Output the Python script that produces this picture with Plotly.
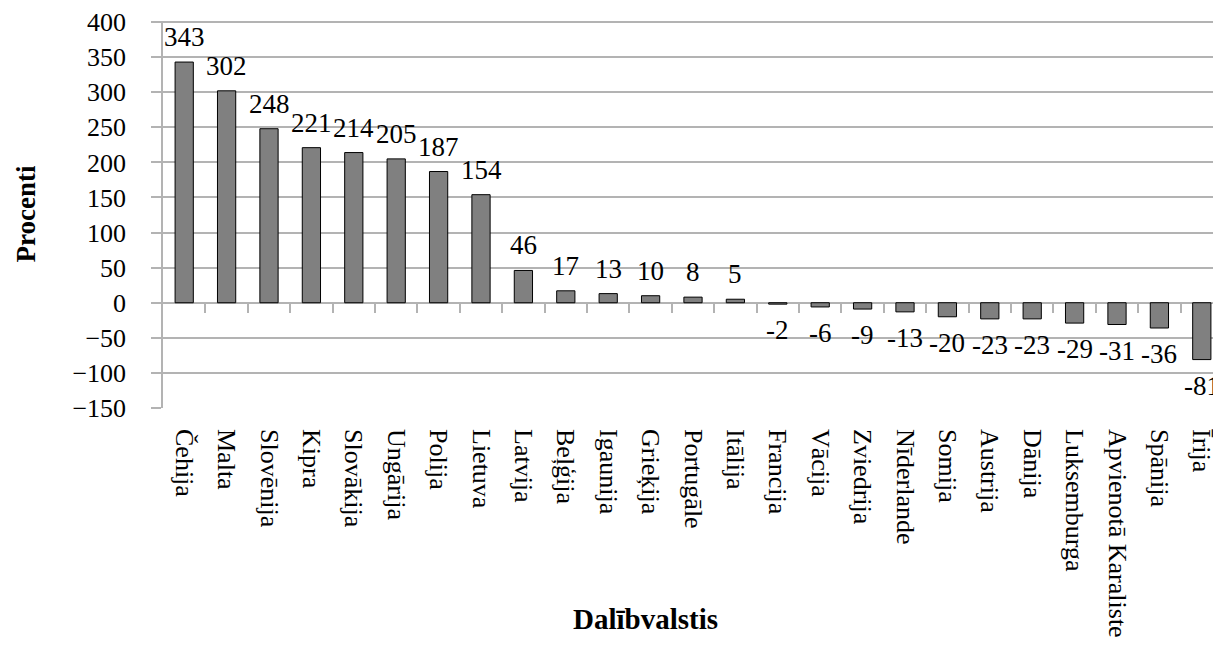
import plotly.graph_objects as go

countries = ["Čehija", "Malta", "Slovēnija", "Kipra", "Slovākija", "Ungārija", "Polija",
             "Lietuva", "Latvija", "Beļģija", "Igaunija", "Grieķija", "Portugāle", "Itālija",
             "Francija", "Vācija", "Zviedrija", "Nīderlande", "Somija", "Austrija", "Dānija",
             "Luksemburga", "Apvienotā Karaliste", "Spānija", "Īrija"]
values = [343, 302, 248, 221, 214, 205, 187, 154, 46, 17, 13, 10, 8, 5,
          -2, -6, -9, -13, -20, -23, -23, -29, -31, -36, -81]
y_ticks = [-150, -100, -50, 0, 50, 100, 150, 200, 250, 300, 350, 400]

FONT = "Liberation Serif, Times New Roman, Times, serif"
GRID = "#b3b3b3"
idx = list(range(len(countries)))

# page is offset by the browser's 8px body margin
OFF = 8
W, H = 1221 - OFF, 650 - OFF
L, T, B = 163 - OFF, 21 - OFF, 650 - 408
PW, PH = W - L, H - T - B

fig = go.Figure()
fig.add_trace(go.Bar(
    x=idx, y=values, width=0.43,
    marker=dict(color="#808080", line=dict(color="#000000", width=1)),
    showlegend=False, hoverinfo="x+y",
))
# invisible helper for the category ticks along the zero line
fig.add_trace(go.Scatter(x=[0], y=[0], xaxis="x2", mode="markers",
                         marker=dict(opacity=0), showlegend=False, hoverinfo="skip"))

for i, v in zip(idx, values):
    fig.add_annotation(x=i, y=v, text=str(v), showarrow=False,
                       yshift=25 if v >= 0 else -26,
                       font=dict(family=FONT, size=27, color="#000"))

fig.add_annotation(xref="paper", yref="paper", x=(25 - 163) / PW, y=0.5, text="<b>Procenti</b>",
                   textangle=-90, showarrow=False, xanchor="center", yanchor="middle",
                   font=dict(family=FONT, size=27, color="#000"))
fig.add_annotation(xref="paper", yref="paper", x=(645 - 163) / PW, y=-(619 - 408) / PH,
                   text="<b>Dalībvalstis</b>", showarrow=False, xanchor="center", yanchor="middle",
                   font=dict(family=FONT, size=29, color="#000"))

xr = [-0.5, -0.5 + PW / 42.4]
fig.update_layout(
    width=W, height=H,
    margin=dict(l=L, r=0, t=T, b=B),
    paper_bgcolor="white", plot_bgcolor="white",
    font=dict(family=FONT, color="#000"),
    xaxis=dict(range=xr, tickmode="array", tickvals=idx, ticktext=countries,
               tickangle=90, ticks="", showgrid=False, zeroline=False,
               showline=False, automargin=False, ticklabelstandoff=20,
               tickfont=dict(family=FONT, size=26, color="#000")),
    xaxis2=dict(range=xr, overlaying="x", anchor="free", position=(408 - 303) / PH,
                tickmode="array", tickvals=[i + 0.5 for i in idx[:-1]],
                ticks="outside", ticklen=9, tickcolor=GRID, tickwidth=1.5,
                showticklabels=False, showgrid=False, zeroline=False, showline=False),
    yaxis=dict(range=[-150, 401.5], tickmode="array", tickvals=y_ticks,
               showgrid=True, gridcolor=GRID, gridwidth=1.5,
               zeroline=True, zerolinecolor=GRID, zerolinewidth=1.5,
               showline=True, linecolor=GRID, linewidth=1.5,
               ticks="outside", ticklen=10, tickcolor=GRID, tickwidth=1.5,
               ticklabelstandoff=20, automargin=False,
               tickfont=dict(family=FONT, size=26, color="#000")),
)

fig.write_html("out.html")
